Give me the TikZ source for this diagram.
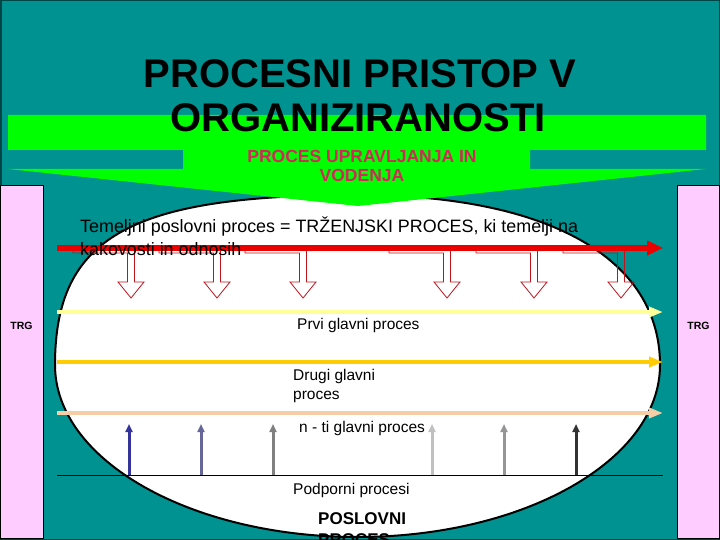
\documentclass[tikz,border=0pt]{standalone}
\usepackage{fontspec}
\setmainfont{Liberation Sans}
\usetikzlibrary{arrows.meta}
\definecolor{teal0}{RGB}{0,145,145}
\definecolor{tealdark}{RGB}{0,70,70}
\definecolor{pinkbox}{RGB}{255,204,255}
\definecolor{arrowgreen}{RGB}{0,255,0}
\definecolor{subred}{RGB}{210,40,90}
\definecolor{hollowred}{RGB}{190,20,30}
\definecolor{procred}{RGB}{235,0,0}
\definecolor{paleyel}{RGB}{255,255,153}
\definecolor{goldyel}{RGB}{255,204,0}
\definecolor{peach}{RGB}{246,205,165}
\definecolor{supA}{RGB}{51,51,153}
\definecolor{supB}{RGB}{102,102,153}
\definecolor{supC}{RGB}{128,128,128}
\definecolor{supD}{RGB}{192,192,192}
\definecolor{supE}{RGB}{150,150,150}
\definecolor{supF}{RGB}{51,51,51}
\begin{document}
\begin{tikzpicture}[x=1pt,y=-1pt,
  txt/.style={inner sep=0pt, anchor=base west, font=\fontsize{15.5}{18}\selectfont},
  trgbox/.style={fill=pinkbox, draw=black, line width=1pt},
  trglabel/.style={inner sep=0pt, anchor=base, font=\fontsize{10.5}{12}\selectfont\bfseries},
  hollow/.style={draw=hollowred, line width=0.8pt},
  mainline/.style={line width=4pt, -{Triangle[length=14pt,width=10pt]}},
  suparrow/.style={line width=3pt, -{Triangle[length=8pt,width=7pt]}}]
\useasboundingbox (0,0) rectangle (720,540);
\clip (0,0) rectangle (720,540);
% background
\fill[teal0] (0,0) rectangle (720,540);
\draw[tealdark, line width=1.5pt] (0.75,0.75) rectangle (719.25,539.25);
% pink market boxes
\draw[trgbox] (0.5,186) rectangle (43,538);
\draw[trgbox] (677,186) rectangle (719.5,538);
\node[trglabel] (trgL) at (21.5,329) {TRG};
\node[trglabel] (trgR) at (698.5,329) {TRG};
% white organisation shape
\draw[fill=white, draw=black, line width=2pt]
  (55,365) .. controls (55,237) and (130,195) .. (357.5,195)
  .. controls (548,195) and (660,258) .. (660,365)
  .. controls (660,460) and (524.5,537) .. (357.5,537)
  .. controls (190.5,537) and (55,460) .. (55,365) -- cycle;
% green management arrow
\fill[arrowgreen] (8,115) -- (706,115) -- (706,150) -- (530,150) -- (530,169)
  -- (706,169) -- (358,206) -- (8,169) -- (183,169) -- (183,150) -- (8,150) -- cycle;
% title
\node[inner sep=0pt, anchor=base, font=\fontsize{40}{44}\selectfont\bfseries] (t1) at (360,88) {PROCESNI PRISTOP V};
\node[inner sep=0pt, anchor=base, font=\fontsize{40}{44}\selectfont\bfseries] (t2) at (358,132) {ORGANIZIRANOSTI};
\node[inner sep=0pt, anchor=base, text=subred, font=\fontsize{17.5}{20}\selectfont\bfseries] (s1) at (362,163) {PROCES UPRAVLJANJA IN};
\node[inner sep=0pt, anchor=base, text=subred, font=\fontsize{17.5}{20}\selectfont\bfseries] (s2) at (362,182) {VODENJA};
% hollow bent arrows
\foreach \xc in {131,217,303,447,534,621}{
  \draw[hollow] (\xc-58,247) -- (\xc+3.5,247) -- (\xc+3.5,282) -- (\xc+13,282)
    -- (\xc,298) -- (\xc-13,282) -- (\xc-3.5,282) -- (\xc-3.5,253) -- (\xc-58,253) -- cycle;
}
% red main process arrow
\coordinate (r0) at (57,248);
\coordinate (r1) at (663,248);
\draw[procred, line width=6pt, -{Triangle[length=16pt,width=14pt]}] (r0) -- (r1);
\node[txt, font=\fontsize{17.9}{20}\selectfont] (tem1) at (80,233) {Temeljni poslovni proces = TRŽENJSKI PROCES, ki temelji na};
\node[txt, font=\fontsize{17.9}{20}\selectfont] (tem2) at (80,255) {kakovosti in odnosih};
% main processes
\coordinate (p1a) at (57,312); \coordinate (p1b) at (663,312);
\coordinate (p2a) at (57,362); \coordinate (p2b) at (663,362);
\coordinate (p3a) at (57,413); \coordinate (p3b) at (663,413);
\draw[mainline, paleyel] (p1a) -- (p1b);
\draw[mainline, goldyel] (p2a) -- (p2b);
\draw[mainline, peach] (p3a) -- (p3b);
\node[txt] (prvi) at (297,329) {Prvi glavni proces};
\node[txt] (drugi1) at (293,380) {Drugi glavni};
\node[txt] (drugi2) at (293,399) {proces};
\node[txt] (nti) at (299,432) {n - ti glavni proces};
% support processes
\coordinate (sa) at (57,475); \coordinate (sb) at (663,475);
\draw[black, line width=1pt] (sa) -- (sb);
\foreach \xs/\cl in {129/supA,201/supB,273/supC,432/supD,504/supE,576/supF}{
  \coordinate (u\xs) at (\xs,475);
  \coordinate (v\xs) at (\xs,424);
  \draw[suparrow, \cl] (u\xs) -- (v\xs);
}
\node[txt] (podp) at (293,494) {Podporni procesi};
\node[txt, font=\fontsize{17}{20}\selectfont\bfseries] (posl1) at (318,524) {POSLOVNI};
\node[txt, font=\fontsize{17}{20}\selectfont\bfseries] (posl2) at (318,545) {PROCES};
\end{tikzpicture}
\end{document}
